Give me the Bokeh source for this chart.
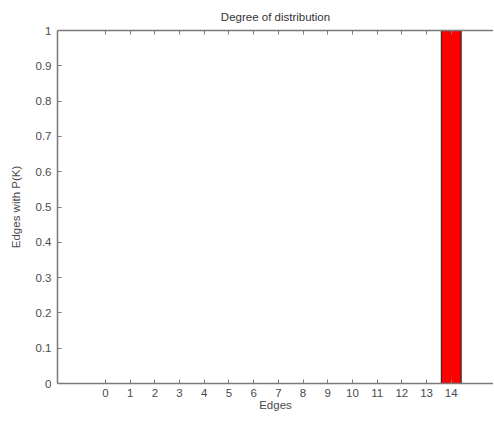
from bokeh.plotting import figure
from bokeh.models import LinearAxis, Range1d, FixedTicker, Title
from bokeh.embed import file_html
from bokeh.resources import INLINE

edges = list(range(15))
prob = [0, 0, 0, 0, 0, 0, 0, 0, 0, 0, 0, 0, 0, 0, 1]
y_ticks = [0, 0.1, 0.2, 0.3, 0.4, 0.5, 0.6, 0.7, 0.8, 0.9, 1]
y_labels = {0: "0", 0.1: "0.1", 0.2: "0.2", 0.3: "0.3", 0.4: "0.4", 0.5: "0.5",
            0.6: "0.6", 0.7: "0.7", 0.8: "0.8", 0.9: "0.9", 1: "1"}

FONT = "Liberation Sans"
AX = "#7a7a7a"
TXT = "#4a4a4a"

p = figure(width=493, height=418, output_backend="svg", toolbar_location=None,
           x_range=Range1d(-1.94, 15.71), y_range=Range1d(0, 1),
           x_axis_location=None, y_axis_location=None,
           min_border_left=57, min_border_right=0, min_border_top=30, min_border_bottom=35)
p.outline_line_color = None
p.grid.visible = False
p.background_fill_color = "white"
p.border_fill_color = "white"

def style(ax):
    ax.axis_line_color = AX
    ax.axis_line_width = 1.5
    ax.major_tick_line_color = AX
    ax.major_tick_in = 4
    ax.major_tick_out = 0
    ax.minor_tick_line_color = None
    ax.major_label_text_font = FONT
    ax.major_label_text_font_size = "11.5px"
    ax.major_label_text_color = TXT
    ax.axis_label_text_font = FONT
    ax.axis_label_text_font_size = "11.5px"
    ax.axis_label_text_font_style = "normal"
    ax.axis_label_text_color = TXT

xt = LinearAxis(ticker=FixedTicker(ticks=edges))
style(xt)
xt.major_label_text_font_size = "0px"
xt.major_label_text_color = None
xt.major_label_standoff = 0
p.add_layout(xt, "above")

t = Title(text="Degree of distribution", align="center", text_font=FONT,
          text_font_size="11.5px", text_font_style="normal", text_color="#333333",
          standoff=15)
p.add_layout(t, "above")

xb = LinearAxis(ticker=FixedTicker(ticks=edges), axis_label="Edges")
style(xb)
xb.major_label_standoff = 5
xb.axis_label_standoff = -1
p.add_layout(xb, "below")

yl = LinearAxis(ticker=FixedTicker(ticks=y_ticks), axis_label="Edges with P(K)",
                major_label_overrides=y_labels)
style(yl)
yl.major_label_standoff = 6
yl.axis_label_standoff = 11
p.add_layout(yl, "left")

xs = [e for e, v in zip(edges, prob) if v > 0]
ts = [v for v in prob if v > 0]
p.vbar(x=xs, top=ts, bottom=0, width=0.8, fill_color="#ff0000",
       line_color="#3a2a2a", line_width=1.2)

open("out.html", "w").write(file_html(p, INLINE))
